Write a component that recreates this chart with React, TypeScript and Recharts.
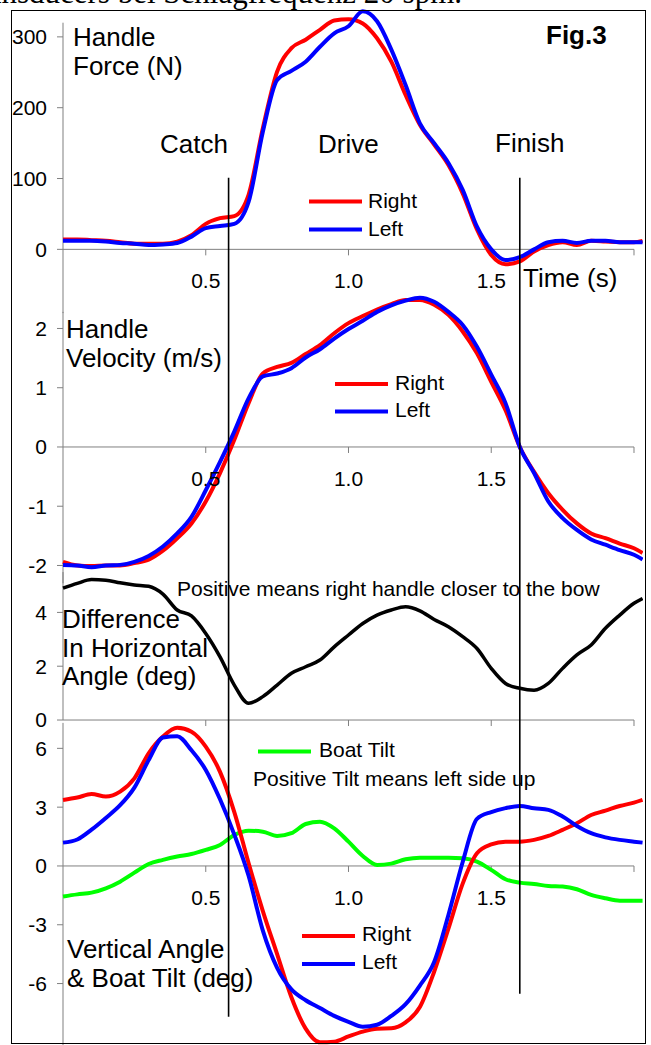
import React from "react";
import { LineChart, Line, XAxis, YAxis, ReferenceLine } from "recharts";

// Values read off Fig.3, sampled every 0.05 s (last sample where the traces stop)
const time = [
  0, 0.05, 0.1, 0.15, 0.2, 0.25, 0.3, 0.35, 0.4, 0.45, 0.5, 0.55, 0.6, 0.65, 0.7, 0.75, 0.8, 0.85, 0.9, 0.95,
  1.0, 1.05, 1.1, 1.15, 1.2, 1.25, 1.3, 1.35, 1.4, 1.45, 1.5, 1.55, 1.6, 1.65, 1.7, 1.75, 1.8, 1.85, 1.9, 1.95,
  2.0, 2.03,
];

// Handle force (N)
const forceRight = [
  14, 14, 13, 12, 10, 8, 8, 8, 11, 20, 36, 44, 47, 77, 171, 251, 284, 296, 310, 323,
  325, 319, 298, 265, 218, 176, 148, 119, 79, 28, -8, -21, -17, -3, 6, 10, 6, 12, 11, 10,
  10, 12,
];
const forceLeft = [
  12, 12, 12, 11, 9, 8, 6, 7, 9, 18, 30, 33, 36, 67, 166, 239, 252, 265, 286, 305,
  315, 336, 322, 282, 232, 178, 150, 122, 84, 32, 0, -15, -11, 0, 10, 12, 9, 12, 12, 10,
  10, 10,
];

// Handle velocity (m/s)
const velocityRight = [
  -1.94, -2.0, -2.01, -2.0, -2.0, -1.96, -1.9, -1.75, -1.54, -1.29, -0.92, -0.44, 0.12, 0.74, 1.24, 1.35, 1.42, 1.57, 1.72, 1.92,
  2.09, 2.21, 2.32, 2.41, 2.48, 2.48, 2.4, 2.23, 1.95, 1.58, 1.1, 0.62, 0.0, -0.42, -0.78, -1.06, -1.29, -1.46, -1.54, -1.63,
  -1.71, -1.79,
];
const velocityLeft = [
  -1.99, -2.0, -2.03, -2.0, -1.99, -1.94, -1.84, -1.68, -1.46, -1.18, -0.73, -0.25, 0.26, 0.82, 1.19, 1.24, 1.33, 1.51, 1.65, 1.83,
  1.99, 2.13, 2.28, 2.39, 2.47, 2.52, 2.45, 2.28, 2.06, 1.69, 1.22, 0.74, 0.0, -0.44, -0.92, -1.2, -1.4, -1.56, -1.65, -1.74,
  -1.82, -1.9,
];

// Difference in horizontal angle (deg)
const angleDifference = [
  4.9, 5.08, 5.22, 5.2, 5.1, 5.02, 4.97, 4.68, 4.09, 3.87, 3.22, 2.35, 1.3, 0.62, 0.87, 1.3, 1.74, 1.98, 2.23, 2.72,
  3.16, 3.59, 3.9, 4.09, 4.21, 4.06, 3.74, 3.47, 3.1, 2.66, 1.92, 1.36, 1.18, 1.11, 1.36, 1.92, 2.42, 2.79, 3.41, 3.9,
  4.34, 4.52,
];

// Vertical angle (deg) and boat tilt (deg)
const verticalRight = [
  3.37, 3.49, 3.67, 3.54, 3.79, 4.47, 5.75, 6.6, 7.05, 6.85, 6.09, 4.8, 2.75, 0.15, -2.3, -4.5, -6.7, -8.3, -9.0, -8.97,
  -8.7, -8.45, -8.3, -8.28, -7.98, -7.2, -5.4, -3.2, -0.9, 0.65, 1.1, 1.24, 1.24, 1.33, 1.53, 1.84, 2.18, 2.6, 2.82, 3.06,
  3.23, 3.37,
];
const verticalLeft = [
  1.19, 1.35, 1.85, 2.45, 3.1, 4.0, 5.4, 6.55, 6.62, 5.9, 4.9, 3.4, 1.6, -0.5, -3.3, -5.2, -6.3, -6.85, -7.25, -7.65,
  -7.95, -8.2, -8.1, -7.65, -7.05, -6.1, -4.9, -2.5, 0.2, 2.4, 2.75, 2.95, 3.06, 2.94, 2.86, 2.52, 2.04, 1.67, 1.46, 1.33,
  1.24, 1.19,
];
const boatTilt = [
  -1.56, -1.45, -1.36, -1.14, -0.8, -0.34, 0.1, 0.31, 0.48, 0.61, 0.82, 1.07, 1.58, 1.8, 1.75, 1.53, 1.67, 2.14, 2.26, 1.92,
  1.24, 0.51, 0.05, 0.12, 0.34, 0.42, 0.42, 0.42, 0.39, 0.22, -0.2, -0.68, -0.85, -0.92, -1.02, -1.05, -1.19, -1.48, -1.65, -1.77,
  -1.77, -1.77,
];

const forceTicks = [0, 100, 200, 300];
const velocityTicks = [-2, -1, 0, 1, 2];
const differenceTicks = [0, 2, 4];
const verticalTicks = [-6, -3, 0, 3, 6];
const timeTicks = [0.5, 1.0, 1.5, 2.0];
const timeTickLabels = ["0.5", "1.0", "1.5", ""];

// catch and finish instants (s)
const markerTimes = [0.58, 1.6];

// layout
const FIG_W = 651;
const FIG_H = 1045;
const PLOT_LEFT = 63;
const PX_PER_SEC = 285.5;
const T_END = 2.03;
const PLOT_W = T_END * PX_PER_SEC;
const YAXIS_W = 60;
const FONT = "Arial, 'Liberation Sans', sans-serif";
const GREY = "#808080";
const RED = "#ff0000";
const BLUE = "#0000ff";
const GREEN = "#00ff00";

// vertical extent of the catch / finish lines, as fraction of the figure height
const MARKER_TOP = 0.17;
const MARKER_BOTTOMS = [0.973, 0.951];

const forceRows = time.map((t, i) => ({ t, right: forceRight[i], left: forceLeft[i] }));
const velocityRows = time.map((t, i) => ({ t, right: velocityRight[i], left: velocityLeft[i] }));
const differenceRows = time.map((t, i) => ({ t, diff: angleDifference[i] }));
const verticalRows = time.map((t, i) => ({
  t,
  tilt: boatTilt[i],
  right: verticalRight[i],
  left: verticalLeft[i],
}));
const markerRows = time.map((t) => ({ t }));

type Series = { key: string; color: string; width: number };

type PanelProps = {
  rows: Record<string, number>[];
  series: Series[];
  zeroY: number; // page y where the value 0 sits
  pxPerUnit: number;
  domain: [number, number];
  axisSpan: [number, number];
  ticks: number[];
  timeLabels: boolean;
};

function Panel({ rows, series, zeroY, pxPerUnit, domain, axisSpan, ticks, timeLabels }: PanelProps) {
  const top = zeroY - domain[1] * pxPerUnit;
  const height = (domain[1] - domain[0]) * pxPerUnit;
  const tickLen = 6 / pxPerUnit;
  return (
    <div style={{ position: "absolute", left: PLOT_LEFT - YAXIS_W, top }}>
      <LineChart
        width={YAXIS_W + PLOT_W}
        height={height}
        data={rows}
        margin={{ top: 0, right: 0, bottom: 0, left: 0 }}
      >
        <XAxis type="number" dataKey="t" domain={[0, T_END]} hide />
        <YAxis
          type="number"
          domain={domain}
          ticks={ticks}
          interval={0}
          width={YAXIS_W}
          axisLine={false}
          tickSize={6}
          tickMargin={10}
          tickLine={{ stroke: GREY }}
          tick={{ fill: "#000", fontSize: 21, fontFamily: FONT }}
        />
        <ReferenceLine
          segment={[
            { x: 0, y: axisSpan[0] },
            { x: 0, y: axisSpan[1] },
          ]}
          stroke={GREY}
        />
        <ReferenceLine
          segment={[
            { x: 0, y: 0 },
            { x: 2, y: 0 },
          ]}
          stroke={GREY}
        />
        {timeTicks.map((t, i) => (
          <ReferenceLine
            key={t}
            segment={[
              { x: t, y: 0 },
              { x: t, y: -tickLen },
            ]}
            stroke={GREY}
            label={
              timeLabels && timeTickLabels[i]
                ? {
                    value: timeTickLabels[i],
                    position: "bottom",
                    offset: 18,
                    fill: "#000",
                    fontSize: 21,
                    fontFamily: FONT,
                  }
                : undefined
            }
          />
        ))}
        {series.map((s) => (
          <Line
            key={s.key}
            dataKey={s.key}
            type="monotone"
            stroke={s.color}
            strokeWidth={s.width}
            dot={false}
            isAnimationActive={false}
          />
        ))}
      </LineChart>
    </div>
  );
}

// catch / finish lines run across all four panels
function Markers() {
  return (
    <div style={{ position: "absolute", left: PLOT_LEFT, top: 0 }}>
      <LineChart width={PLOT_W} height={FIG_H} data={markerRows} margin={{ top: 0, right: 0, bottom: 0, left: 0 }}>
        <XAxis type="number" dataKey="t" domain={[0, T_END]} allowDataOverflow hide />
        <YAxis type="number" domain={[0, 1]} allowDataOverflow reversed hide />
        {markerTimes.map((t, i) => (
          <ReferenceLine
            key={t}
            segment={[
              { x: t, y: MARKER_TOP },
              { x: t, y: MARKER_BOTTOMS[i] },
            ]}
            stroke="#000"
            strokeWidth={1.6}
            ifOverflow="visible"
          />
        ))}
      </LineChart>
    </div>
  );
}

function Note({ x, y, size = 26, children, bold = false }: { x: number; y: number; size?: number; children: React.ReactNode; bold?: boolean }) {
  return (
    <text x={x} y={y} fontSize={size} fontWeight={bold ? "bold" : "normal"} fill="#000">
      {children}
    </text>
  );
}

function Swatch({ x, y, color }: { x: number; y: number; color: string }) {
  return <line x1={x} x2={x + 53} y1={y} y2={y} stroke={color} strokeWidth={4} />;
}

export default function App() {
  return (
    <div
      style={{
        position: "absolute",
        left: 0,
        top: 0,
        width: FIG_W,
        height: FIG_H,
        overflow: "hidden",
        background: "#fff",
      }}
    >
      <Panel
        rows={forceRows}
        series={[
          { key: "right", color: RED, width: 4 },
          { key: "left", color: BLUE, width: 4 },
        ]}
        zeroY={249.5}
        pxPerUnit={0.7083}
        domain={[-100, 345]}
        axisSpan={[-90, 320]}
        ticks={forceTicks}
        timeLabels
      />
      <Panel
        rows={velocityRows}
        series={[
          { key: "right", color: RED, width: 4 },
          { key: "left", color: BLUE, width: 4 },
        ]}
        zeroY={447}
        pxPerUnit={59.25}
        domain={[-2.4, 2.7]}
        axisSpan={[-2.3, 2.28]}
        ticks={velocityTicks}
        timeLabels
      />
      <Panel
        rows={differenceRows}
        series={[{ key: "diff", color: "#000", width: 3.5 }]}
        zeroY={720}
        pxPerUnit={26.9}
        domain={[-0.6, 5.8]}
        axisSpan={[0, 5.5]}
        ticks={differenceTicks}
        timeLabels={false}
      />
      <Panel
        rows={verticalRows}
        series={[
          { key: "tilt", color: GREEN, width: 4 },
          { key: "right", color: RED, width: 4 },
          { key: "left", color: BLUE, width: 4 },
        ]}
        zeroY={866}
        pxPerUnit={19.6}
        domain={[-9.6, 7.6]}
        axisSpan={[-9.3, 7.3]}
        ticks={verticalTicks}
        timeLabels
      />
      <Markers />

      <svg
        width={FIG_W}
        height={FIG_H}
        style={{ position: "absolute", left: 0, top: 0, pointerEvents: "none" }}
        fontFamily={FONT}
      >
        <text x={462} y={2.5} fontSize={31} textAnchor="end" fontFamily="'Liberation Serif', 'Times New Roman', serif">
          Transducers bei Schlagfrequenz 20 spm.
        </text>
        <rect x={11.5} y={10.5} width={634} height={1033} fill="none" stroke="#000" strokeWidth={1} />

        <Note x={73} y={46}>Handle</Note>
        <Note x={73} y={74.5}>Force (N)</Note>
        <Note x={546} y={44} bold>Fig.3</Note>
        <Note x={160} y={153}>Catch</Note>
        <Note x={318} y={153}>Drive</Note>
        <Note x={495} y={152}>Finish</Note>
        <Note x={523} y={287}>Time (s)</Note>
        <Swatch x={309} y={201.5} color={RED} />
        <Note x={368} y={208} size={21}>Right</Note>
        <Swatch x={309} y={229.5} color={BLUE} />
        <Note x={368} y={235.5} size={21}>Left</Note>

        <Note x={66} y={338}>Handle</Note>
        <Note x={66} y={367}>Velocity (m/s)</Note>
        <Swatch x={335} y={384} color={RED} />
        <Note x={395} y={389.5} size={21}>Right</Note>
        <Swatch x={335} y={411.5} color={BLUE} />
        <Note x={395} y={417} size={21}>Left</Note>

        <Note x={177} y={596} size={21}>Positive means right handle closer to the bow</Note>
        <Note x={62} y={628}>Difference</Note>
        <Note x={62} y={657}>In Horizontal</Note>
        <Note x={62} y={685}>Angle (deg)</Note>

        <Swatch x={258} y={751.5} color={GREEN} />
        <Note x={319} y={757} size={21}>Boat Tilt</Note>
        <Note x={253} y={786} size={21}>Positive Tilt means left side up</Note>
        <Swatch x={302} y={936} color={RED} />
        <Note x={362} y={941} size={21}>Right</Note>
        <Swatch x={302} y={964} color={BLUE} />
        <Note x={362} y={969} size={21}>Left</Note>
        <Note x={67} y={958}>Vertical Angle</Note>
        <Note x={67} y={987}>& Boat Tilt (deg)</Note>
      </svg>
    </div>
  );
}
